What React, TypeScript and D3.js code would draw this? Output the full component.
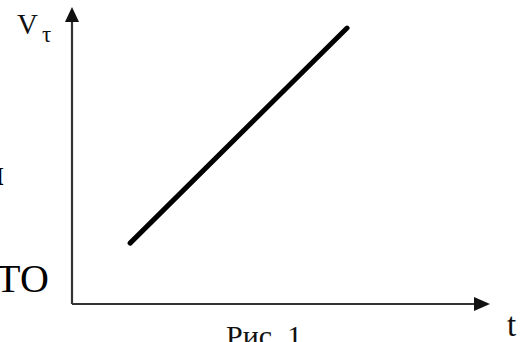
import React from "react";
import * as d3 from "d3";

const W = 529;
const H = 342;

// Line data (time vs tangential velocity), in axis units
const tValues = [1.39, 6.58];
const vValues = [2.05, 9.29];

const xDomain = [0, 10];
const yDomain = [0, 10];

const yLabel = "V";
const ySub = "τ";
const xLabel = "t";
const caption = "Рис. 1";
const sideText1 = "ТО";
const sideText2 = "л";

export default function App() {
  const x = d3.scaleLinear().domain(xDomain).range([72, 490]);
  const y = d3.scaleLinear().domain(yDomain).range([304, 7]);
  const line = d3
    .line<number>()
    .x((_, i) => x(tValues[i]))
    .y((d) => y(d));
  const x0 = x(0);
  const y0 = y(0);
  const xEnd = x(xDomain[1]);
  const yEnd = y(yDomain[1]);
  const font = "Liberation Serif, DejaVu Serif, serif";
  return (
    <svg
      width={W}
      height={H}
      style={{ position: "absolute", left: 0, top: 0, background: "#fff" }}
    >
      {/* axes */}
      <line x1={x0} y1={y0} x2={x0} y2={yEnd + 12} stroke="#333" strokeWidth={2.2} />
      <line x1={x0} y1={y0} x2={xEnd - 12} y2={y0} stroke="#333" strokeWidth={2.2} />
      <path
        d={`M${x0},${yEnd} L${x0 - 7},${yEnd + 15} L${x0 + 7},${yEnd + 15} Z`}
        fill="#111"
      />
      <path
        d={`M${xEnd},${y0} L${xEnd - 16},${y0 - 7} L${xEnd - 16},${y0 + 7} Z`}
        fill="#111"
      />
      {/* data line */}
      <path
        d={line(vValues) || ""}
        stroke="#000"
        strokeWidth={5}
        strokeLinecap="round"
        fill="none"
      />
      {/* labels */}
      <text x={17} y={34} fontFamily={font} fontSize={29} fill="#111">
        {yLabel}
      </text>
      <text x={42} y={42} fontFamily={font} fontSize={23} fill="#111">
        {ySub}
      </text>
      <text x={507} y={336} fontFamily={font} fontSize={33} fill="#111">
        {xLabel}
      </text>
      <text x={226} y={346} fontFamily={font} fontSize={30} fill="#111">
        {caption}
      </text>
      <text x={-4} y={292} fontFamily={font} fontSize={40} fill="#000">
        {sideText1}
      </text>
      <text x={4} y={185} textAnchor="end" fontFamily={font} fontSize={36} fill="#000">
        {sideText2}
      </text>
    </svg>
  );
}
